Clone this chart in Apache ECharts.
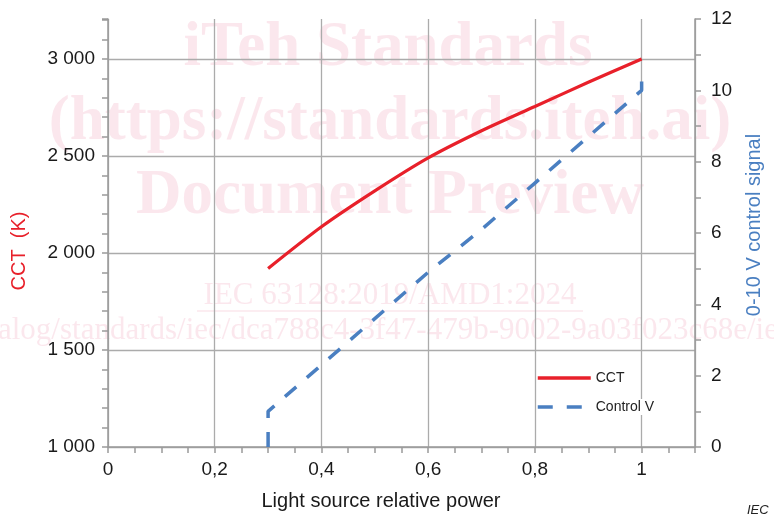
<!DOCTYPE html>
<html>
<head>
<meta charset="utf-8">
<script src="https://cdn.jsdelivr.net/npm/echarts@6/dist/echarts.min.js"></script>
<style>
html,body{margin:0;padding:0;background:#fff;}
#chart{width:774px;height:515px;}
</style>
</head>
<body>
<div id="chart"></div>
<script>
// ---- data ----
const cctX = [0.3, 0.4, 0.5, 0.6, 0.7, 0.8, 0.9, 1.0];
const cctK = [1920, 2135, 2320, 2490, 2630, 2755, 2880, 3000];
const ctrlX = [0.3, 0.3, 0.4, 0.5, 0.6, 0.7, 0.8, 0.9, 1.0, 1.0];
const ctrlV = [0, 1, 2.3, 3.6, 4.9, 6.1, 7.4, 8.7, 10, 10.6];
const seriesNames = ['CCT', 'Control V'];
const xTitle = 'Light source relative power';
const yLeftTitle = 'CCT  (K)';
const yRightTitle = '0-10 V control signal';
const watermark = [
  'iTeh Standards',
  '(https://standards.iteh.ai)',
  'Document Preview',
  'IEC 63128:2019/AMD1:2024',
  'alog/standards/iec/dca788c4-3f47-479b-9002-9a03f023c68e/iec-63128-2019'
];

const chart = echarts.init(document.getElementById('chart'), null, {renderer: 'canvas'});
const gray = '#9a9a9a';
const gridGray = '#ababab';
const wmColor = 'rgba(232,130,160,0.19)';
const sans = 'Liberation Sans, Arial, sans-serif';
const serif = 'Liberation Serif, Times New Roman, serif';

function thousands(v) {
  return String(Math.round(v)).replace(/\B(?=(\d{3})+(?!\d))/g, ' ');
}

const option = {
  animation: false,
  backgroundColor: '#fff',
  grid: {left: 108, right: 79, top: 19, bottom: 68, containLabel: false},
  legend: {
    orient: 'vertical',
    left: 531,
    top: 365,
    itemWidth: 53,
    itemHeight: 14,
    itemGap: 13,
    itemStyle: {opacity: 0},
    lineStyle: {width: 3.5},
    textStyle: {fontFamily: sans, fontSize: 14, color: '#222', backgroundColor: '#fff', padding: [1, 0]},
    data: seriesNames
  },
  xAxis: {
    type: 'value',
    min: 0, max: 1.1, interval: 0.2,
    axisLine: {show: true, onZero: false, lineStyle: {color: gray, width: 1.5}},
    axisTick: {show: true, length: 6, lineStyle: {color: gray, width: 1.5}},
    minorTick: {show: true, splitNumber: 4, length: 6, lineStyle: {color: gray, width: 1.5}},
    splitLine: {show: true, lineStyle: {color: gridGray, width: 1.3}},
    axisLabel: {
      margin: 13, color: '#1a1a1a', fontFamily: sans, fontSize: 19,
      formatter: function (v) {
        if (v > 1.0001) return '';
        if (Math.abs(v * 5 - Math.round(v * 5)) > 1e-6) return '';
        return String(+v.toFixed(1)).replace('.', ',');
      }
    }
  },
  yAxis: [
    {
      type: 'value',
      min: 1000, max: 3206, interval: 500,
      axisLine: {show: true, lineStyle: {color: gray, width: 1.5}},
      axisTick: {show: true, length: 6, lineStyle: {color: gray, width: 1.5}},
      minorTick: {show: true, splitNumber: 5, length: 6, lineStyle: {color: gray, width: 1.5}},
      splitLine: {show: true, showMaxLine: false, lineStyle: {color: gridGray, width: 1.3}},
      axisLabel: {
        margin: 13, color: '#1a1a1a', fontFamily: sans, fontSize: 19,
        formatter: function (v) { return (Math.abs(v % 500) < 1e-6) ? thousands(v) : ''; }
      }
    },
    {
      type: 'value',
      min: 0, max: 12, interval: 2,
      position: 'right',
      axisLine: {show: true, lineStyle: {color: gray, width: 1.5}},
      axisTick: {show: true, length: 6, lineStyle: {color: gray, width: 1.5}},
      minorTick: {show: true, splitNumber: 2, length: 6, lineStyle: {color: gray, width: 1.5}},
      splitLine: {show: false},
      axisLabel: {margin: 16, color: '#1a1a1a', fontFamily: sans, fontSize: 19}
    }
  ],
  series: [
    {
      name: seriesNames[0],
      type: 'line',
      yAxisIndex: 0,
      smooth: 0.25,
      symbol: 'none',
      z: 5,
      lineStyle: {color: '#e8202a', width: 3.2},
      itemStyle: {color: '#e8202a'},
      data: cctX.map((x, i) => [x, cctK[i]])
    },
    {
      name: seriesNames[1],
      type: 'line',
      yAxisIndex: 1,
      symbol: 'none',
      z: 4,
      lineStyle: {color: '#4a7fc1', width: 3.5, type: [15, 14]},
      itemStyle: {color: '#4a7fc1'},
      data: ctrlX.map((x, i) => [x, ctrlV[i]])
    }
  ],
  graphic: [
    {type: 'text', z: -1, silent: true, x: 388, y: 49,
      style: {text: watermark[0], font: 'bold 63px ' + serif, fill: wmColor, align: 'center', verticalAlign: 'middle'}},
    {type: 'text', z: -1, silent: true, x: 390, y: 123,
      style: {text: watermark[1], font: 'bold 63px ' + serif, fill: wmColor, align: 'center', verticalAlign: 'middle'}},
    {type: 'text', z: -1, silent: true, x: 390, y: 197,
      style: {text: watermark[2], font: 'bold 63px ' + serif, fill: wmColor, align: 'center', verticalAlign: 'middle'}},
    {type: 'text', z: -1, silent: true, x: 390, y: 296,
      style: {text: watermark[3], font: '31px ' + serif, fill: wmColor, align: 'center', verticalAlign: 'middle'}},
    {type: 'line', z: -1, silent: true, shape: {x1: 197, y1: 311, x2: 583, y2: 311},
      style: {stroke: wmColor, lineWidth: 1.5}},
    {type: 'text', z: -1, silent: true, x: -2, y: 331,
      style: {text: watermark[4], font: '31px ' + serif, fill: wmColor, align: 'left', verticalAlign: 'middle'}},
    {type: 'text', x: 19, y: 251, rotation: Math.PI / 2,
      style: {text: yLeftTitle, font: '20px ' + sans, fill: '#e8202a', align: 'center', verticalAlign: 'middle'}},
    {type: 'text', x: 754, y: 225, rotation: Math.PI / 2,
      style: {text: yRightTitle, font: '20px ' + sans, fill: '#4a7fc1', align: 'center', verticalAlign: 'middle'}},
    {type: 'text', x: 381, y: 501,
      style: {text: xTitle, font: '20px ' + sans, fill: '#1a1a1a', align: 'center', verticalAlign: 'middle'}},
    {type: 'text', x: 747, y: 510,
      style: {text: 'IEC', font: 'italic 13px ' + sans, fill: '#222', align: 'left', verticalAlign: 'middle'}}
  ]
};
chart.setOption(option);
</script>
</body>
</html>
